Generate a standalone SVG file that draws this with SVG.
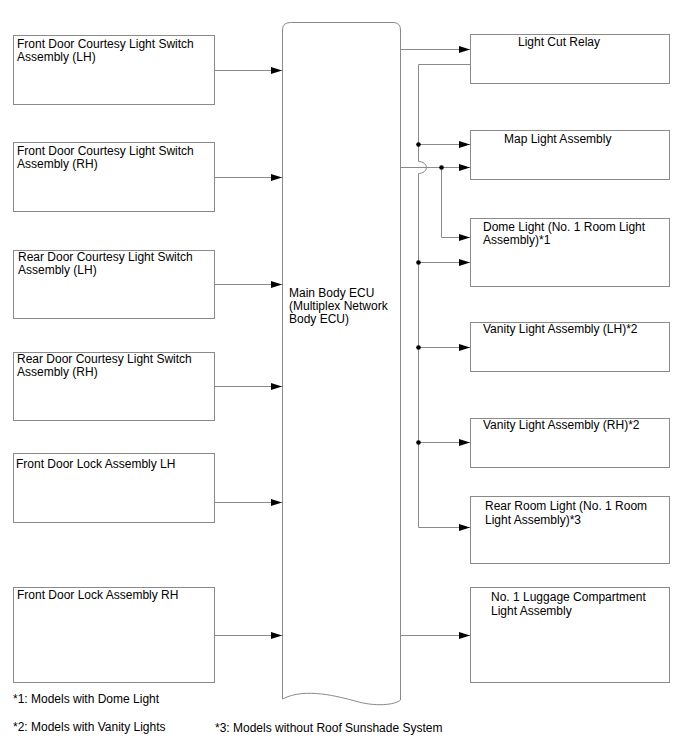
<svg xmlns="http://www.w3.org/2000/svg" width="688" height="755" viewBox="0 0 688 755">
<style>
.box{fill:#fff;stroke:#8a8a8a;stroke-width:1}
.ln{fill:none;stroke:#8a8a8a;stroke-width:1}
.ar{marker-end:url(#arr)}
text{font-family:"Liberation Sans",Arial,sans-serif;font-size:12px;fill:#000}
</style>
<defs>
<marker id="arr" markerUnits="userSpaceOnUse" markerWidth="11" markerHeight="8" refX="11" refY="3.5" orient="auto">
<path d="M0,0 L11,3.5 L0,7 z" fill="#000"/>
</marker>
</defs>
<rect width="688" height="755" fill="#fff"/>

<g id="n1"><rect class="box" x="13.5" y="35.5" width="201" height="69"/><text x="17" y="48">Front Door Courtesy Light Switch</text><text x="17" y="61">Assembly (LH)</text></g>
<g id="n2"><rect class="box" x="13.5" y="142.5" width="201" height="69"/><text x="17" y="155">Front Door Courtesy Light Switch</text><text x="17" y="168">Assembly (RH)</text></g>
<g id="n3"><rect class="box" x="13.5" y="250.5" width="201" height="68"/><text x="18" y="261">Rear Door Courtesy Light Switch</text><text x="18" y="274">Assembly (LH)</text></g>
<g id="n4"><rect class="box" x="13.5" y="352.5" width="201" height="68"/><text x="17" y="363">Rear Door Courtesy Light Switch</text><text x="17" y="376">Assembly (RH)</text></g>
<g id="n5"><rect class="box" x="13.5" y="453.5" width="201" height="69"/><text x="16" y="468">Front Door Lock Assembly LH</text></g>
<g id="n6"><rect class="box" x="13.5" y="587.5" width="201" height="95"/><text x="17" y="599">Front Door Lock Assembly RH</text></g>

<g id="ecu"><path class="box" d="M282.5,30 Q282.5,22.5 290.5,22.5 H393 Q400.5,22.5 400.5,30 V700 C395,705 375,707 355,701 C340,697 305,687 282.5,699 Z"/><text x="289" y="297">Main Body ECU</text><text x="289" y="310">(Multiplex Network</text><text x="289" y="323">Body ECU)</text></g>

<g id="relay"><rect class="box" x="470.5" y="34.5" width="199" height="49"/><text x="518" y="46">Light Cut Relay</text></g>
<g id="map"><rect class="box" x="470.5" y="130.5" width="199" height="49"/><text x="504" y="143">Map Light Assembly</text></g>
<g id="dome"><rect class="box" x="470.5" y="218.5" width="199" height="68"/><text x="483" y="231">Dome Light (No. 1 Room Light</text><text x="483" y="244">Assembly)*1</text></g>
<g id="vanl"><rect class="box" x="470.5" y="322.5" width="199" height="49"/><text x="483" y="333">Vanity Light Assembly (LH)*2</text></g>
<g id="vanr"><rect class="box" x="470.5" y="418.5" width="199" height="49"/><text x="483" y="429">Vanity Light Assembly (RH)*2</text></g>
<g id="rear"><rect class="box" x="470.5" y="496.5" width="199" height="67"/><text x="485" y="510">Rear Room Light (No. 1 Room</text><text x="485" y="524">Light Assembly)*3</text></g>
<g id="lug"><rect class="box" x="470.5" y="587.5" width="199" height="95"/><text x="491" y="601">No. 1 Luggage Compartment</text><text x="491" y="615">Light Assembly</text></g>

<g id="notes">
<text x="13" y="703">*1: Models with Dome Light</text>
<text x="13" y="731">*2: Models with Vanity Lights</text>
<text x="215" y="732">*3: Models without Roof Sunshade System</text>
</g>

<g id="connectors">
<path class="ln ar" d="M214.5,70.5 H282"/>
<path class="ln ar" d="M214.5,177.5 H282"/>
<path class="ln ar" d="M214.5,284.5 H282"/>
<path class="ln ar" d="M214.5,386.5 H282"/>
<path class="ln ar" d="M214.5,502.5 H282"/>
<path class="ln ar" d="M214.5,635.5 H282"/>
<path class="ln ar" d="M400.5,49.5 H470"/>
<path class="ln ar" d="M400.5,635.5 H470"/>
<path class="ln ar" d="M400.5,167.5 H470"/>
<path class="ln" d="M470,64.5 H418.5 V161.5 A8,6 0 0 1 418.5,173.5 V527.5"/>
<path class="ln ar" d="M418.5,527.5 H470"/>
<path class="ln ar" d="M418.5,144.5 H470"/>
<path class="ln ar" d="M418.5,262.5 H470"/>
<path class="ln ar" d="M418.5,347.5 H470"/>
<path class="ln ar" d="M418.5,442.5 H470"/>
<path class="ln ar" d="M441.5,167.5 V237.5 H470"/>
<circle cx="418.5" cy="144.5" r="2.3"/>
<circle cx="418.5" cy="262.5" r="2.3"/>
<circle cx="418.5" cy="347.5" r="2.3"/>
<circle cx="418.5" cy="442.5" r="2.3"/>
<circle cx="441.5" cy="167.5" r="2.3"/>
</g>
</svg>
